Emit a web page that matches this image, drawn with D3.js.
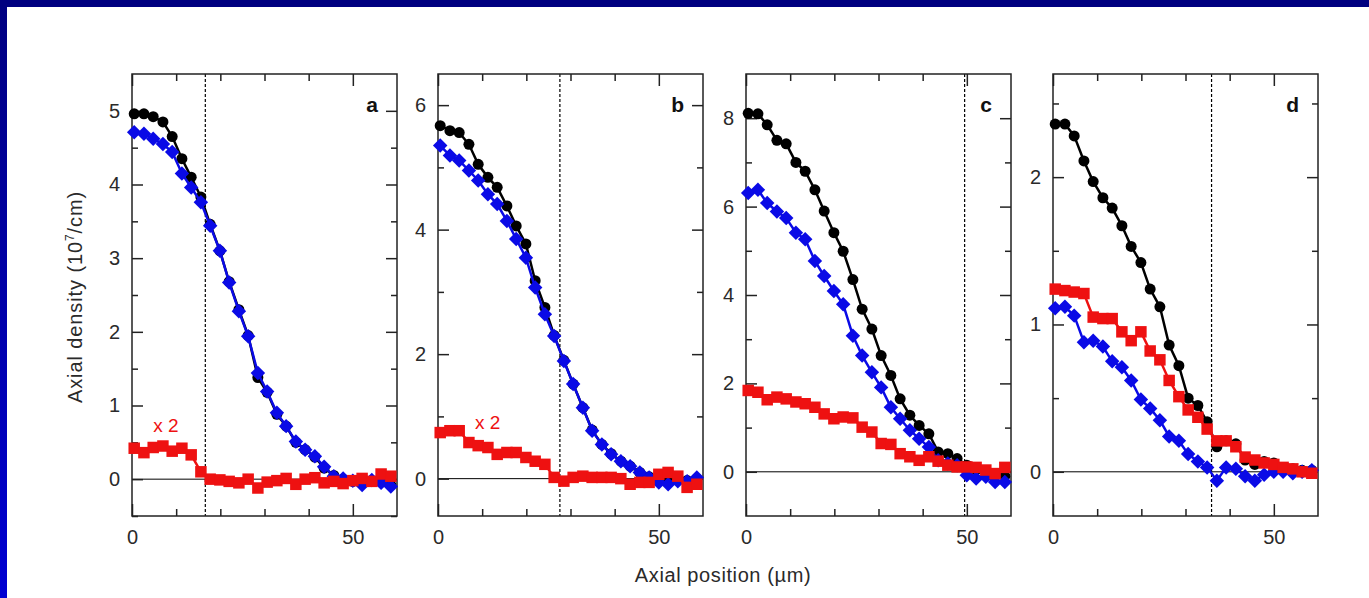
<!DOCTYPE html>
<html>
<head>
<meta charset="utf-8">
<script src="https://cdn.jsdelivr.net/npm/d3@7"></script>
<style>
  body { margin: 0; background: #fff; }
  svg text { font-family: "Liberation Sans", Arial, sans-serif; }
</style>
</head>
<body>
<div id="chart"></div>
<script>
// axial positions of the profile points (um)
var xPos = [0.5, 2.7, 4.8, 7.0, 9.1, 11.3, 13.4, 15.6, 17.7, 19.9, 22.0, 24.2, 26.3, 28.5,
  30.6, 32.8, 34.9, 37.1, 39.2, 41.4, 43.5, 45.7, 47.8, 50.0, 52.1, 54.3, 56.4, 58.6];

// panel a
var blackA = [4.96, 4.96, 4.92, 4.85, 4.65, 4.35, 4.10, 3.83, 3.46, 3.10, 2.68, 2.30, 1.95, 1.38,
  1.18, 0.88, 0.72, 0.50, 0.40, 0.30, 0.15, 0.05, 0.00, -0.03, -0.05, -0.02, -0.04, -0.08];
var blueA = [4.71, 4.69, 4.62, 4.55, 4.44, 4.15, 3.96, 3.76, 3.44, 3.10, 2.67, 2.28, 1.94, 1.44,
  1.19, 0.90, 0.72, 0.51, 0.40, 0.31, 0.17, 0.04, 0.01, -0.02, -0.08, -0.01, -0.05, -0.10];
var redA = [0.42, 0.36, 0.43, 0.45, 0.38, 0.42, 0.33, 0.10, 0.00, -0.01, -0.03, -0.05, 0.00, -0.12,
  -0.04, -0.02, 0.01, -0.07, 0.00, 0.02, -0.05, -0.03, -0.06, -0.02, 0.01, -0.03, 0.07, 0.04];

// panel b
var blackB = [5.67, 5.59, 5.56, 5.37, 5.05, 4.84, 4.68, 4.38, 4.06, 3.77, 3.18, 2.75, 2.30, 1.90,
  1.52, 1.14, 0.78, 0.55, 0.40, 0.28, 0.20, 0.10, 0.03, -0.02, -0.04, 0.00, -0.03, 0.00];
var blueB = [5.35, 5.19, 5.11, 4.95, 4.79, 4.57, 4.41, 4.14, 3.85, 3.55, 3.07, 2.64, 2.29, 1.89,
  1.52, 1.14, 0.77, 0.55, 0.39, 0.28, 0.20, 0.10, 0.02, -0.06, -0.09, -0.04, -0.04, 0.02];
var redB = [0.74, 0.77, 0.77, 0.58, 0.53, 0.50, 0.39, 0.42, 0.42, 0.34, 0.28, 0.23, 0.02, -0.04,
  0.02, 0.04, 0.02, 0.02, 0.02, 0.00, -0.09, -0.06, -0.06, 0.07, 0.10, 0.04, -0.14, -0.09];

// panel c
var blackC = [8.11, 8.10, 7.85, 7.50, 7.42, 7.00, 6.80, 6.38, 5.90, 5.41, 4.99, 4.35, 3.68, 3.23,
  2.63, 2.18, 1.65, 1.28, 1.05, 0.86, 0.45, 0.41, 0.30, 0.15, 0.05, 0.00, -0.08, -0.10];
var blueC = [6.31, 6.38, 6.08, 5.89, 5.74, 5.41, 5.26, 4.77, 4.43, 4.09, 3.79, 3.08, 2.63, 2.25,
  1.91, 1.46, 1.20, 0.94, 0.75, 0.56, 0.26, 0.19, 0.15, -0.08, -0.15, -0.11, -0.23, -0.23];
var redC = [1.84, 1.80, 1.63, 1.69, 1.65, 1.58, 1.54, 1.46, 1.31, 1.20, 1.24, 1.22, 1.01, 0.90,
  0.64, 0.62, 0.41, 0.34, 0.26, 0.34, 0.24, 0.15, 0.11, 0.11, 0.10, 0.04, -0.04, 0.10];

// panel d
var blackD = [2.36, 2.36, 2.28, 2.11, 1.97, 1.86, 1.79, 1.67, 1.53, 1.42, 1.24, 1.12, 0.86, 0.72,
  0.50, 0.45, 0.34, 0.17, 0.21, 0.19, 0.08, 0.05, 0.07, 0.06, 0.03, 0.02, 0.01, 0.01];
var blueD = [1.11, 1.12, 1.06, 0.88, 0.89, 0.85, 0.75, 0.71, 0.62, 0.49, 0.43, 0.35, 0.24, 0.21,
  0.12, 0.07, 0.03, -0.06, 0.03, 0.02, -0.03, -0.06, -0.02, 0.00, 0.00, -0.01, 0.00, 0.01];
var redD = [1.24, 1.23, 1.22, 1.21, 1.05, 1.04, 1.04, 0.95, 0.89, 0.95, 0.82, 0.76, 0.62, 0.51,
  0.42, 0.37, 0.29, 0.21, 0.21, 0.17, 0.10, 0.08, 0.06, 0.05, 0.03, 0.02, 0.00, -0.01];

var panelNames = ["a", "b", "c", "d"];
var yDomains = [[-0.5, 5.5], [-0.6, 6.5], [-1, 9], [-0.3, 2.7]];
var yMajor = [[0, 1, 2, 3, 4, 5], [0, 2, 4, 6], [0, 2, 4, 6, 8], [0, 1, 2]];
var yMinor = [[-0.5, 0.5, 1.5, 2.5, 3.5, 4.5], [1, 3, 5], [1, 3, 5, 7], [0.5, 1.5, 2.5]];
var xMajor = [0, 50];
var xMinor = [10, 20, 30, 40];
var cutoff = [16.6, 27.6, 49.5, 35.9];   // dashed lines (um)
var scaleNote = ["x 2", "x 2", null, null];
var notePos = [[4.8, 0.64], [8.4, 0.80]];

var xTitle = "Axial position (\u00b5m)";

var svgWidth = 1369, svgHeight = 598;
var lefts = [132, 438, 746, 1053];
var pw = 265;
var plotTop = 74, plotBottom = 516;

var colBlack = "#000000", colBlue = "#0a0ae6", colRed = "#ee1111";

var svg = d3.select("#chart").append("svg")
  .attr("width", svgWidth)
  .attr("height", svgHeight);

// slide frame
var grad = svg.append("defs").append("linearGradient")
  .attr("id", "edge").attr("x1", 0).attr("y1", 0).attr("x2", 0).attr("y2", 1);
grad.append("stop").attr("offset", "0%").attr("stop-color", "#000080");
grad.append("stop").attr("offset", "100%").attr("stop-color", "#0000d2");
svg.append("rect").attr("width", svgWidth).attr("height", svgHeight).attr("fill", "#fff");
svg.append("rect").attr("x", 0).attr("y", 0).attr("width", 7).attr("height", svgHeight).attr("fill", "url(#edge)");
svg.append("rect").attr("x", 0).attr("y", 0).attr("width", svgWidth).attr("height", 7).attr("fill", "#000080");

var series = [
  [blackA, blueA, redA],
  [blackB, blueB, redB],
  [blackC, blueC, redC],
  [blackD, blueD, redD]
];

var diamond = d3.symbol().type(d3.symbolSquare).size(105);
var square = d3.symbol().type(d3.symbolSquare).size(132);

panelNames.forEach(function(name, p) {
  var h = plotBottom - plotTop;
  var x = d3.scaleLinear().domain([0, 60]).range([0, pw]);
  var y = d3.scaleLinear().domain(yDomains[p]).range([h, 0]);

  var g = svg.append("g")
    .attr("transform", `translate(${lefts[p]}, ${plotTop})`);

  // zero line
  g.append("line")
    .attr("x1", 0).attr("x2", pw)
    .attr("y1", y(0)).attr("y2", y(0))
    .attr("stroke", "#000").attr("stroke-width", 1);

  // dashed cut-off
  g.append("line")
    .attr("x1", x(cutoff[p])).attr("x2", x(cutoff[p]))
    .attr("y1", 0).attr("y2", h)
    .attr("stroke", "#000").attr("stroke-width", 1.2)
    .attr("stroke-dasharray", "3,2");

  // axes, ticks pointing in
  var fmt = d3.format("d");
  var axes = [
    [d3.axisLeft(y).tickValues(yMajor[p]).tickSizeInner(-11).tickSizeOuter(0).tickPadding(12).tickFormat(fmt), null],
    [d3.axisLeft(y).tickValues(yMinor[p]).tickSizeInner(-6).tickSizeOuter(0).tickFormat(""), null],
    [d3.axisRight(y).tickValues(yMajor[p]).tickSizeInner(-11).tickSizeOuter(0).tickFormat(""), `translate(${pw},0)`],
    [d3.axisRight(y).tickValues(yMinor[p]).tickSizeInner(-6).tickSizeOuter(0).tickFormat(""), `translate(${pw},0)`],
    [d3.axisBottom(x).tickValues(xMajor).tickSizeInner(-12).tickSizeOuter(0).tickPadding(14).tickFormat(fmt), `translate(0,${h})`],
    [d3.axisBottom(x).tickValues(xMinor).tickSizeInner(-7).tickSizeOuter(0).tickFormat(""), `translate(0,${h})`],
    [d3.axisTop(x).tickValues(xMajor).tickSizeInner(-12).tickSizeOuter(0).tickFormat(""), null],
    [d3.axisTop(x).tickValues(xMinor).tickSizeInner(-7).tickSizeOuter(0).tickFormat(""), null]
  ];
  axes.forEach(function(a) {
    var ag = g.append("g").call(a[0]);
    if (a[1]) ag.attr("transform", a[1]);
    ag.attr("font-size", 20).attr("font-family", "'Liberation Sans', Arial, sans-serif");
    ag.select(".domain").remove();
    ag.selectAll("line").attr("stroke", "#222").attr("stroke-width", 1.5);
    ag.selectAll("text").attr("fill", "#2a2a2a");
  });

  // frame
  g.append("rect")
    .attr("width", pw).attr("height", h)
    .attr("fill", "none").attr("stroke", "#222").attr("stroke-width", 1.5);

  var line = d3.line()
    .x((d, i) => x(xPos[i]))
    .y(d => y(d));

  var s = series[p];

  // black circles
  g.append("path").datum(s[0])
    .attr("d", line).attr("fill", "none")
    .attr("stroke", colBlack).attr("stroke-width", 2.5);
  g.selectAll(".blk").data(s[0]).enter().append("circle")
    .attr("cx", (d, i) => x(xPos[i]))
    .attr("cy", d => y(d))
    .attr("r", 5.5)
    .attr("fill", colBlack);

  // blue diamonds
  g.append("path").datum(s[1])
    .attr("d", line).attr("fill", "none")
    .attr("stroke", colBlue).attr("stroke-width", 2.5);
  g.selectAll(".blu").data(s[1]).enter().append("path")
    .attr("d", diamond)
    .attr("transform", (d, i) => `translate(${x(xPos[i])},${y(d)}) rotate(45)`)
    .attr("fill", colBlue);

  // red squares
  g.append("path").datum(s[2])
    .attr("d", line).attr("fill", "none")
    .attr("stroke", colRed).attr("stroke-width", 2.5);
  g.selectAll(".rd").data(s[2]).enter().append("path")
    .attr("d", square)
    .attr("transform", (d, i) => `translate(${x(xPos[i])},${y(d)})`)
    .attr("fill", colRed);

  if (scaleNote[p]) {
    g.append("text")
      .attr("x", x(notePos[p][0]))
      .attr("y", y(notePos[p][1]))
      .attr("fill", colRed)
      .style("font-size", "19px")
      .text(scaleNote[p]);
  }

  // panel letter
  g.append("text")
    .attr("x", pw - 19)
    .attr("y", 38)
    .attr("text-anchor", "end")
    .attr("fill", "#111")
    .style("font-size", "21px")
    .style("font-weight", "bold")
    .text(name);
});

// axis titles
svg.append("text")
  .attr("x", 723).attr("y", 582)
  .attr("text-anchor", "middle")
  .attr("fill", "#2a2a2a")
  .style("font-size", "20px")
  .style("letter-spacing", "0.6px")
  .text(xTitle);

var yt = svg.append("text")
  .attr("transform", "translate(82,297) rotate(-90)")
  .attr("text-anchor", "middle")
  .attr("fill", "#2a2a2a")
  .style("font-size", "20px")
  .style("letter-spacing", "0.9px");
yt.append("tspan").text("Axial density (10");
yt.append("tspan").attr("dy", -8).style("font-size", "12px").text("7");
yt.append("tspan").attr("dy", 8).text("/cm)");
</script>
</body>
</html>
